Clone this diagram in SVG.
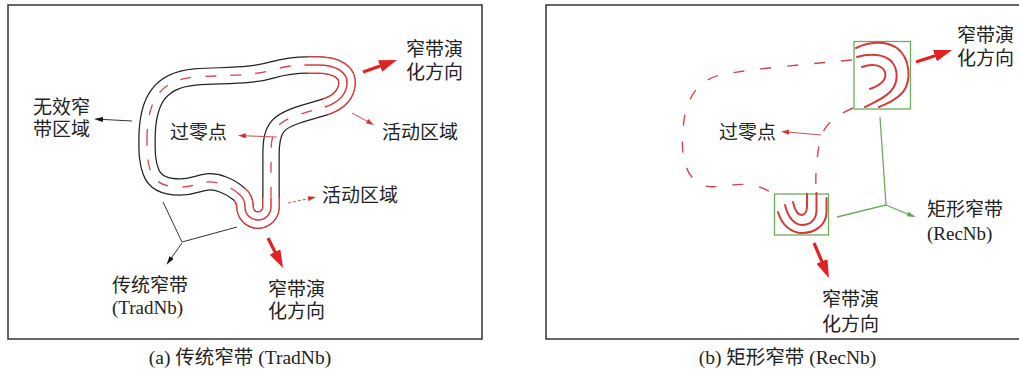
<svg xmlns="http://www.w3.org/2000/svg" width="1019" height="372" viewBox="0 0 1019 372">
<style>
.frame{fill:none;stroke:#333;stroke-width:1.5}
.lbl{font-family:"Liberation Serif","Noto Sans CJK SC",serif;font-size:19px;fill:#222}
.cap{font-family:"Liberation Serif","Noto Sans CJK SC",serif;font-size:19.5px;fill:#222;text-anchor:middle}
.tubeB{fill:none;stroke:#222;stroke-width:17.5;stroke-linejoin:round}
.tubeW{fill:none;stroke:#fff;stroke-width:15;stroke-linejoin:round}
.tubeR{fill:none;stroke:#e03c3c;stroke-width:17.5;stroke-linejoin:round}
.dashL{fill:none;stroke:#d9434b;stroke-width:1.3;stroke-dasharray:11 14}
.dashR{fill:none;stroke:#d9434b;stroke-width:1.4;stroke-dasharray:11 16}
.solidR{fill:none;stroke:#dc3a3a;stroke-width:1.5;stroke-linejoin:round}
.arcR{fill:none;stroke:#d63a3a;stroke-width:2;stroke-linecap:round}
.big{fill:none;stroke:#e02222;stroke-width:3.2;marker-end:url(#hBig)}
.thinR{fill:none;stroke:#d05050;stroke-width:1;marker-end:url(#hR)}
.thinK{fill:none;stroke:#333;stroke-width:1;marker-end:url(#hK)}
.grn{fill:none;stroke:#6aac5c;stroke-width:1.3}
.grnA{fill:none;stroke:#6aac5c;stroke-width:1.3;marker-end:url(#hG)}
</style>
<defs>
<marker id="hBig" viewBox="0 0 18 12" refX="1" refY="6" markerWidth="18" markerHeight="12" orient="auto" markerUnits="userSpaceOnUse"><path d="M0,0 L18,6 L0,12 Z" fill="#e02222"/></marker>
<marker id="hR" viewBox="0 0 8 5" refX="1" refY="2.5" markerWidth="8" markerHeight="5" orient="auto" markerUnits="userSpaceOnUse"><path d="M0,0 L8,2.5 L0,5 Z" fill="#d83030"/></marker>
<marker id="hK" viewBox="0 0 9 5" refX="1" refY="2.5" markerWidth="9" markerHeight="5" orient="auto" markerUnits="userSpaceOnUse"><path d="M0,0 L9,2.5 L0,5 Z" fill="#111"/></marker>
<marker id="hG" viewBox="0 0 9 5" refX="1" refY="2.5" markerWidth="9" markerHeight="5" orient="auto" markerUnits="userSpaceOnUse"><path d="M0,0 L9,2.5 L0,5 Z" fill="#5fa84f"/></marker>
<path id="bandL" d="M 147,140 C 147,100 160,80 195,77 C 230,75 252,76 272,70 C 290,65 300,65 308,65 L 318,65 C 336,65 348,72 347,84 C 346,96 337,103 325,107 C 305,113 286,117 278,126 C 272,133 271,142 271,155 L 271,198 L 271,207 A 13 13 0 0 1 245,207 C 245,201 243,197 239,194 C 230,186 217,181 207,182 C 197,183 193,187 180,187 C 165,187 155,183 151,172 C 147,162 147,152 147,140 Z"/>
<path id="activeTop" d="M 308,65 L 318,65 C 336,65 348,72 347,84 C 346,96 337,103 325,107"/>
<path id="activeBot" d="M 271,198 L 271,207 A 13 13 0 0 1 245,207 C 245,201 243,197 239,194"/>
</defs>
<rect width="1019" height="372" fill="#fff"/>

<g id="panel-a">
<rect class="frame" x="8" y="5" width="474" height="334"/>
<g id="tradnb-band">
<use href="#bandL" class="tubeB"/>
<use href="#bandL" class="tubeW"/>
<use href="#bandL" class="dashL"/>
</g>
<g id="active-top-a">
<use href="#activeTop" class="tubeR"/>
<use href="#activeTop" class="tubeW"/>
<use href="#activeTop" class="solidR"/>
</g>
<g id="active-bottom-a">
<use href="#activeBot" class="tubeR"/>
<use href="#activeBot" class="tubeW"/>
<use href="#activeBot" class="solidR"/>
</g>
<g id="lbl-dir-top-a"><text class="lbl" x="406" y="56">窄带演</text><text class="lbl" x="406" y="79">化方向</text></g>
<g id="lbl-invalid"><text class="lbl" x="33" y="114">无效窄</text><text class="lbl" x="33" y="136">带区域</text></g>
<g id="lbl-zero-a"><text class="lbl" x="170" y="139">过零点</text></g>
<g id="lbl-active1"><text class="lbl" x="382" y="139">活动区域</text></g>
<g id="lbl-active2"><text class="lbl" x="322" y="202">活动区域</text></g>
<g id="lbl-tradnb"><text class="lbl" x="112" y="292">传统窄带</text><text class="lbl" x="112" y="314">(TradNb)</text></g>
<g id="lbl-dir-bot-a"><text class="lbl" x="268" y="296">窄带演</text><text class="lbl" x="268" y="318">化方向</text></g>
<text class="cap" x="240" y="364">(a) 传统窄带 (TradNb)</text>
</g>

<g id="panel-b">
<path class="frame" d="M 1025,5 L 546,5 L 546,339 L 1025,339"/>
<g id="recnb-path">
<path class="dashR" d="M 852,60 C 800,65 760,68 725,74 C 700,78 688,95 684,120 C 680,150 682,178 705,186 C 725,190 745,176 772,193"/>
<path class="dashR" d="M 853,108 C 835,116 822,125 819,145 C 816,165 815,180 816.5,193"/>
</g>
<g id="rect-top">
<rect class="grn" x="854" y="41.5" width="56.5" height="67.5"/>
<path class="arcR" d="M 856,48 C 868,42 885,40 897,48 C 910,58 912,80 903,92 C 896,100 888,103 879,107"/>
<path class="arcR" d="M 857,57 C 870,53 885,54 892,62 C 899,71 898,84 890,92 C 883,99 873,103 865,107"/>
<path class="arcR" d="M 862,67 C 870,64 880,64 884,70 C 888,77 884,84 870,89"/>
</g>
<g id="rect-bottom">
<rect class="grn" x="774.5" y="194" width="54" height="41"/>
<path class="arcR" d="M 778,212 C 782,226 792,233 802,233 C 815,233 826.5,225 826.5,212 L 826.5,198"/>
<path class="arcR" d="M 785,205 C 788,218 795,225 802,225 C 811,225 816.5,219 816.5,210 L 816.5,193"/>
<path class="arcR" d="M 793,202 C 795,211 798,215 801.5,215 C 805,215 807,211 807,206 L 807,194"/>
</g>
<g id="lbl-dir-top-b"><text class="lbl" x="957" y="42">窄带演</text><text class="lbl" x="957" y="65">化方向</text></g>
<g id="lbl-zero-b"><text class="lbl" x="719" y="139">过零点</text></g>
<g id="lbl-recnb"><text class="lbl" x="927" y="216">矩形窄带</text><text class="lbl" x="927" y="240">(RecNb)</text></g>
<g id="lbl-dir-bot-b"><text class="lbl" x="822" y="306">窄带演</text><text class="lbl" x="822" y="331">化方向</text></g>
<text class="cap" x="787.5" y="364">(b) 矩形窄带 (RecNb)</text>
</g>

<g id="connectors">
<path class="big" d="M 363,72 L 381,65.7"/>
<path class="big" d="M 268,238 L 275.4,252.8"/>
<path class="thinK" d="M 132,121 L 102,119.4"/>
<path class="thinR" d="M 277,137 L 245,135.8"/>
<path class="thinR" d="M 352,113 L 367.9,121.6"/>
<path class="thinR" d="M 288,203 L 309.1,198.5" stroke-dasharray="3 2"/>
<path class="thinK" d="M 163,202 L 182,242 L 237,227" style="marker-end:none"/>
<path class="thinK" d="M 182,243 L 171.1,258.3"/>
<path class="big" d="M 916,62 L 935.9,55.4"/>
<path class="big" d="M 814,243 L 822.3,262.4"/>
<path class="thinR" d="M 821,135 L 788,132.1"/>
<path class="grn" d="M 880,117 L 886,205 L 837,217"/>
<path class="grnA" d="M 886,205 L 908.5,214.3"/>
</g>
</svg>
